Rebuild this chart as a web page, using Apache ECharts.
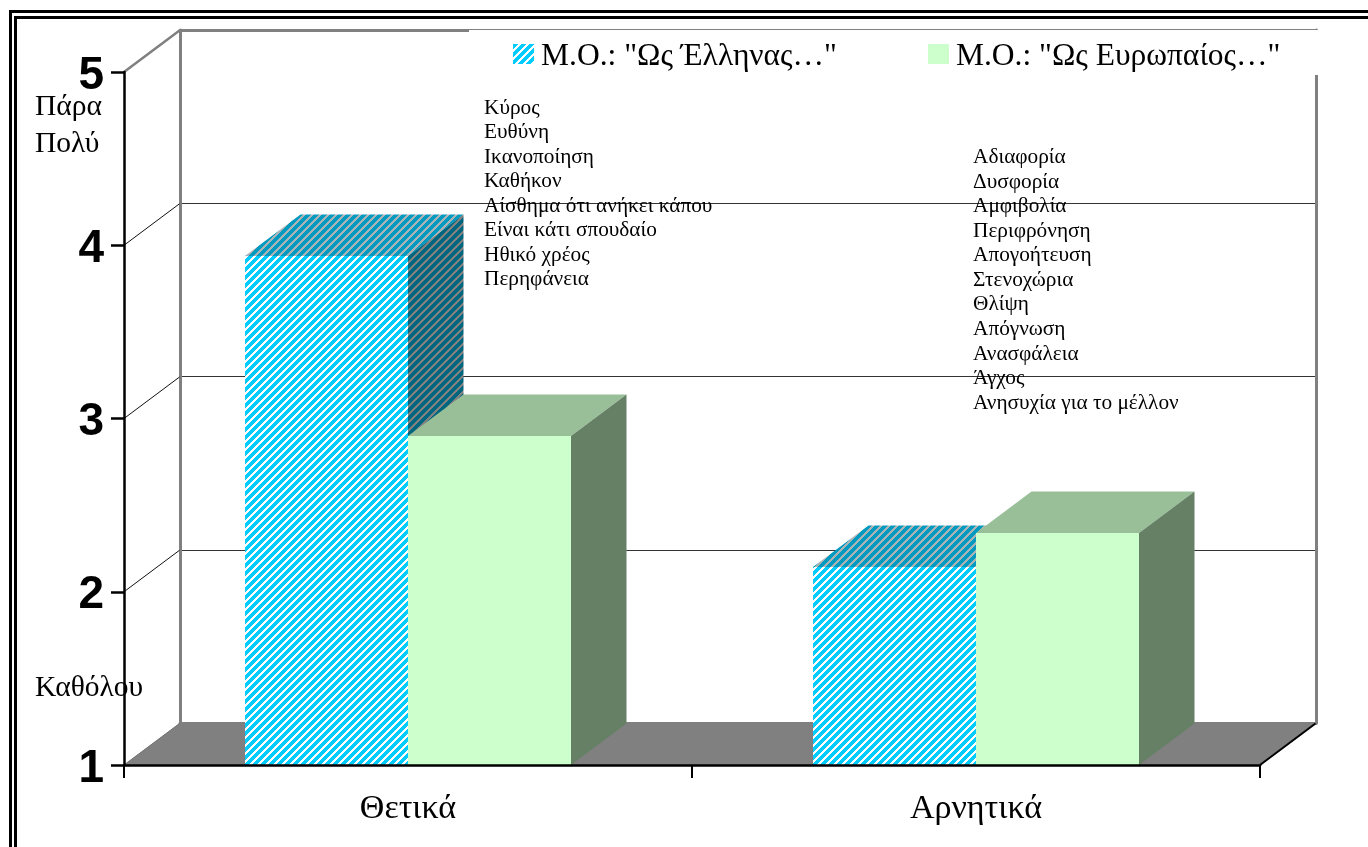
<!DOCTYPE html>
<html><head><meta charset="utf-8">
<style>html,body{margin:0;padding:0;background:#fff}#c{width:1368px;height:847px}</style>
<script src="https://cdn.jsdelivr.net/npm/echarts@6/dist/echarts.min.js"></script>
</head><body><div id="c"></div>
<script>
const categories = ['Θετικά', 'Αρνητικά'];
const greekName = 'Μ.Ο.: "Ως Έλληνας…"';
const europeanName = 'Μ.Ο.: "Ως Ευρωπαίος…"';
const greekValues = [3.94, 2.14];
const europeanValues = [2.90, 2.34];
const yTicks = [1, 2, 3, 4, 5];
const positiveWords = ['Κύρος','Ευθύνη','Ικανοποίηση','Καθήκον','Αίσθημα ότι ανήκει κάπου','Είναι κάτι σπουδαίο','Ηθικό χρέος','Περηφάνεια'];
const negativeWords = ['Αδιαφορία','Δυσφορία','Αμφιβολία','Περιφρόνηση','Απογοήτευση','Στενοχώρια','Θλίψη','Απόγνωση','Ανασφάλεια','Άγχος','Ανησυχία για το μέλλον'];

const DX = 55.5, DY = -41.5, BAR = 163 / 568;
const SERIF = '"Liberation Serif","Times New Roman",serif';
const SANS = '"Liberation Sans",Arial,sans-serif';

function stripes(a, b, span) {
  const n = 8, c = document.createElement('canvas');
  c.width = n; c.height = n;
  const g = c.getContext('2d');
  for (let x = 0; x < n; x++) for (let y = 0; y < n; y++) {
    g.fillStyle = ((x + y) % n) < span ? a : b;
    g.fillRect(x, y, 1, 1);
  }
  return { image: c, repeat: 'repeat' };
}
const blueFront = stripes('#00ccff', '#ffffff', 5);
const blueTop = stripes('#0099bf', '#a9b2b5', 5);
const blueSide = stripes('#006680', '#808080', 5);
const greenFront = '#ccffcc', greenTop = '#99bf99', greenSide = '#668066';

function barRenderer(slot, front, top, side) {
  return function (params, api) {
    const cat = api.value(0), val = api.value(1);
    const base = api.coord([cat, 1]), head = api.coord([cat, val]);
    const w = api.size([1, 0])[0] * BAR;
    const x0 = Math.round(base[0] + slot * w), x1 = Math.round(base[0] + (slot + 1) * w);
    const y0 = Math.round(base[1]), y1 = Math.round(head[1]);
    return { type: 'group', children: [
      { type: 'polygon', shape: { points: [[x0, y1], [x1, y1], [x1 + DX, y1 + DY], [x0 + DX, y1 + DY]] }, style: { fill: top } },
      { type: 'polygon', shape: { points: [[x1, y0], [x1 + DX, y0 + DY], [x1 + DX, y1 + DY], [x1, y1]] }, style: { fill: side } },
      { type: 'rect', shape: { x: x0, y: y1, width: x1 - x0, height: y0 - y1 }, style: { fill: front } }
    ] };
  };
}
function floorRenderer(params, api) {
  const cs = params.coordSys, y = api.coord([0, api.value(0)])[1];
  const l = cs.x, r = cs.x + cs.width;
  return { type: 'group', children: [
    { type: 'polygon', shape: { points: [[l, y], [l + DX, y + DY], [r + DX, y + DY], [r, y]] }, style: { fill: '#808080' } },
    { type: 'line', shape: { x1: r, y1: y, x2: r + DX, y2: y + DY }, style: { stroke: '#000', lineWidth: 2 } }
  ] };
}
function diagonalRenderer(params, api) {
  const cs = params.coordSys, v = api.value(0), y = api.coord([0, v])[1];
  const top = v === yTicks[yTicks.length - 1];
  return { type: 'line', shape: { x1: cs.x, y1: y, x2: cs.x + DX, y2: y + DY },
    style: { stroke: top ? '#808080' : (v === yTicks[0] ? '#6e6e6e' : '#111'), lineWidth: top ? 2.5 : 1 } };
}
function wordGraphics(words, x, y0) {
  return words.map((t, i) => ({ type: 'text', z: 10, x: x, y: y0 + i * 24.55,
    style: { text: t, fill: '#000', font: '21.3px ' + SERIF, textVerticalAlign: 'middle' } }));
}
function noteGraphic(t, y) {
  return { type: 'text', z: 10, x: 35, y: y, style: { text: t, fill: '#000', font: '29.5px ' + SERIF, textVerticalAlign: 'middle' } };
}
const wall = { show: true, lineStyle: { color: '#808080', width: 3 } };

const chart = echarts.init(document.getElementById('c'), null, { renderer: 'canvas' });
chart.setOption({
  animation: false,
  backgroundColor: '#fff',
  legend: {
    data: [greekName, europeanName], icon: 'rect', left: 469, top: 30, z: 6,
    backgroundColor: '#fff', padding: [11, 39, 2, 44], borderRadius: 0,
    itemWidth: 21, itemHeight: 20, itemGap: 91, selectedMode: false,
    formatter: name => '{t|' + name + '}',
    textStyle: { rich: { t: { fontFamily: SERIF, fontSize: 31.5, color: '#000', padding: [6, 0, 0, 2] } } }
  },
  grid: [
    { left: 124, top: 72, width: 1136, height: 693 },
    { left: 180, top: 30, width: 1136, height: 693 }
  ],
  xAxis: [
    { type: 'category', gridIndex: 0, data: categories, z: 3,
      axisLine: { lineStyle: { color: '#000', width: 2.5 } },
      axisTick: { show: true, length: 13, lineStyle: { color: '#000', width: 2 } },
      axisLabel: { fontFamily: SERIF, fontSize: 34, color: '#000', margin: 27 } },
    { type: 'category', gridIndex: 1, data: categories, position: 'bottom', z: 0, axisLine: wall, axisTick: { show: false }, axisLabel: { show: false } },
    { type: 'category', gridIndex: 1, data: categories, position: 'top', z: 0, axisLine: wall, axisTick: { show: false }, axisLabel: { show: false } }
  ],
  yAxis: [
    { type: 'value', gridIndex: 0, min: 1, max: 5, interval: 1, z: 3,
      axisLine: { show: true, lineStyle: { color: '#000', width: 2.5 } },
      axisTick: { show: true, length: 13, lineStyle: { color: '#000', width: 2.5 } },
      splitLine: { show: false },
      axisLabel: { margin: 20, formatter: '{n|{value}}',
        rich: { n: { fontFamily: SANS, fontWeight: 'bold', fontSize: 46, color: '#000', padding: [8, 0, 0, 0] } } } },
    { type: 'value', gridIndex: 1, min: 1, max: 5, interval: 1, position: 'left', z: 0, axisLine: wall,
      axisTick: { show: false }, axisLabel: { show: false },
      splitLine: { show: true, lineStyle: { color: '#333', width: 1 } } },
    { type: 'value', gridIndex: 1, min: 1, max: 5, interval: 1, position: 'right', z: 0, axisLine: wall,
      axisTick: { show: false }, axisLabel: { show: false }, splitLine: { show: false } }
  ],
  series: [
    { type: 'custom', name: 'floor', xAxisIndex: 0, yAxisIndex: 0, z: 1, silent: true, data: [[yTicks[0]]], renderItem: floorRenderer, encode: { y: 0 } },
    { type: 'custom', name: 'diagonals', xAxisIndex: 0, yAxisIndex: 0, z: 1, silent: true, data: yTicks.map(v => [v]), renderItem: diagonalRenderer, encode: { y: 0 } },
    { type: 'custom', name: greekName, xAxisIndex: 0, yAxisIndex: 0, z: 2, itemStyle: { color: blueFront },
      data: greekValues.map((v, i) => [i, v]), encode: { x: 0, y: 1 }, renderItem: barRenderer(-1, blueFront, blueTop, blueSide) },
    { type: 'custom', name: europeanName, xAxisIndex: 0, yAxisIndex: 0, z: 2, itemStyle: { color: greenFront },
      data: europeanValues.map((v, i) => [i, v]), encode: { x: 0, y: 1 }, renderItem: barRenderer(0, greenFront, greenTop, greenSide) }
  ],
  graphic: { elements: [
    { type: 'rect', z: 20, shape: { x: 10.5, y: 11.5, width: 1500, height: 1000 }, style: { fill: 'none', stroke: '#000', lineWidth: 3 } },
    { type: 'rect', z: 20, shape: { x: 15.5, y: 17.5, width: 1500, height: 1000 }, style: { fill: 'none', stroke: '#000', lineWidth: 3 } },
    noteGraphic('Πάρα', 107), noteGraphic('Πολύ', 144), noteGraphic('Καθόλου', 688)
  ].concat(wordGraphics(positiveWords, 484, 108), wordGraphics(negativeWords, 973, 157.5)) }
});
</script></body></html>
